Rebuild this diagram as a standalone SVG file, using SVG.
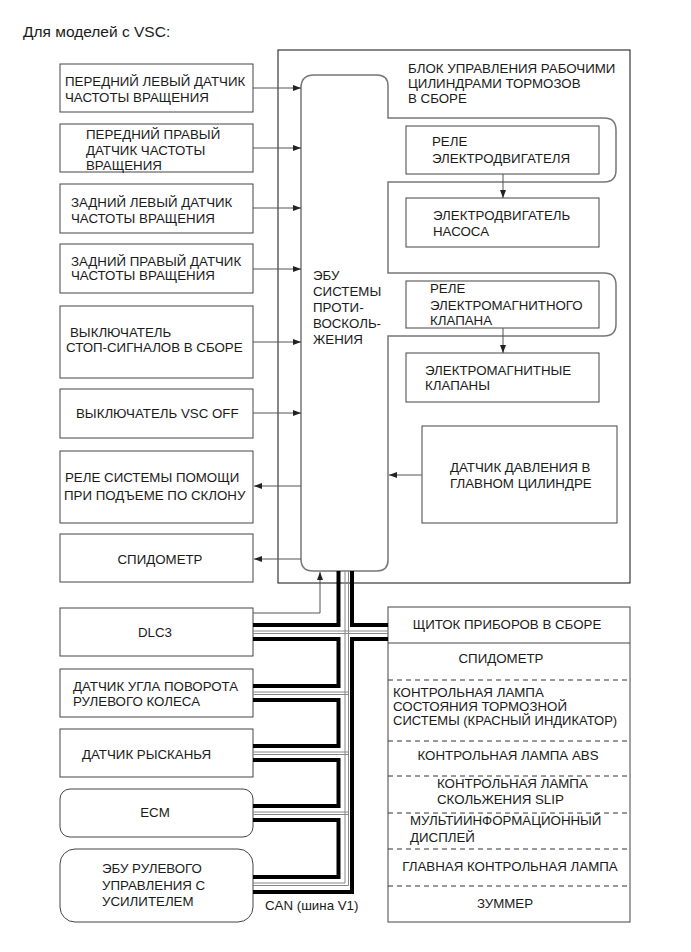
<svg xmlns="http://www.w3.org/2000/svg" width="691" height="952" viewBox="0 0 691 952">
<defs>
<marker id="ah" markerUnits="userSpaceOnUse" markerWidth="8" markerHeight="6" refX="8" refY="3" orient="auto">
<path d="M0,0 L8,3 L0,6 z" fill="#222"/>
</marker>
<style>
.t{font-family:"Liberation Sans",Arial,sans-serif;font-size:13.3px;fill:#1a1a1a}
.m{text-anchor:middle}
.box{fill:#fff;stroke:#444;stroke-width:1}
.ln{fill:none;stroke:#555;stroke-width:1}
.ar{fill:none;stroke:#555;stroke-width:1;marker-end:url(#ah)}
.ecu{fill:#fff;stroke:#777;stroke-width:1.5}
.thick{fill:none;stroke:#000;stroke-width:4;stroke-linejoin:miter}
.thin{fill:none;stroke:#888;stroke-width:1}
.dash{stroke:#333;stroke-width:1;stroke-dasharray:5,4}
</style>
</defs>
<rect width="691" height="952" fill="#fff"/>
<text class="t" x="23" y="37" style="font-size:15.5px">Для моделей с VSC:</text>

<g id="brake-actuator">
<rect x="278" y="50" width="352" height="533" fill="#fff" stroke="#111" stroke-width="1"/>
<text class="t" x="408" y="73">БЛОК УПРАВЛЕНИЯ РАБОЧИМИ</text>
<text class="t" x="408" y="88">ЦИЛИНДРАМИ ТОРМОЗОВ</text>
<text class="t" x="408" y="103">В СБОРЕ</text>
</g>

<g id="ecu">
<path class="ecu" d="M301,88 Q301,75 314,75 H377 Q388,75 388,86 V118 H604 Q616,118 616,130 V170 Q616,182 604,182 H388 V273 H604 Q616,273 616,285 V324 Q616,336 604,336 H388 V560 Q388,571 377,571 H313 Q301,571 301,559 Z"/>
<text class="t" x="313" y="280">ЭБУ</text>
<text class="t" x="313" y="296">СИСТЕМЫ</text>
<text class="t" x="313" y="312">ПРОТИ-</text>
<text class="t" x="313" y="328">ВОСКОЛЬ-</text>
<text class="t" x="313" y="344">ЖЕНИЯ</text>
</g>

<g id="motor-relay">
<rect class="box" x="406" y="126" width="193" height="48"/>
<text class="t" x="432" y="146">РЕЛЕ</text>
<text class="t" x="432" y="163">ЭЛЕКТРОДВИГАТЕЛЯ</text>
</g>
<g id="pump-motor">
<rect class="box" x="406" y="198" width="193" height="49"/>
<text class="t" x="433" y="220">ЭЛЕКТРОДВИГАТЕЛЬ</text>
<text class="t" x="433" y="236">НАСОСА</text>
</g>
<g id="solenoid-relay">
<rect class="box" x="406" y="281" width="193" height="47"/>
<text class="t" x="430" y="293">РЕЛЕ</text>
<text class="t" x="430" y="310">ЭЛЕКТРОМАГНИТНОГО</text>
<text class="t" x="430" y="325">КЛАПАНА</text>
</g>
<g id="solenoid-valves">
<rect class="box" x="406" y="353" width="193" height="49"/>
<text class="t" x="425" y="375">ЭЛЕКТРОМАГНИТНЫЕ</text>
<text class="t" x="425" y="390">КЛАПАНЫ</text>
</g>
<g id="pressure-sensor">
<rect class="box" x="422" y="426" width="195" height="97"/>
<text class="t" x="450" y="472">ДАТЧИК ДАВЛЕНИЯ В</text>
<text class="t" x="450" y="488">ГЛАВНОМ ЦИЛИНДРЕ</text>
</g>

<g id="fl-sensor">
<rect class="box" x="60" y="64" width="193" height="48"/>
<text class="t" x="65" y="86">ПЕРЕДНИЙ ЛЕВЫЙ ДАТЧИК</text>
<text class="t" x="65" y="102">ЧАСТОТЫ ВРАЩЕНИЯ</text>
</g>
<g id="fr-sensor">
<rect class="box" x="60" y="124" width="193" height="48"/>
<text class="t" x="86" y="139">ПЕРЕДНИЙ ПРАВЫЙ</text>
<text class="t" x="86" y="155">ДАТЧИК ЧАСТОТЫ</text>
<text class="t" x="86" y="170">ВРАЩЕНИЯ</text>
</g>
<g id="rl-sensor">
<rect class="box" x="60" y="184" width="193" height="49"/>
<text class="t" x="71" y="207">ЗАДНИЙ ЛЕВЫЙ ДАТЧИК</text>
<text class="t" x="71" y="223">ЧАСТОТЫ ВРАЩЕНИЯ</text>
</g>
<g id="rr-sensor">
<rect class="box" x="60" y="244" width="193" height="49"/>
<text class="t" x="71" y="266">ЗАДНИЙ ПРАВЫЙ ДАТЧИК</text>
<text class="t" x="71" y="280">ЧАСТОТЫ ВРАЩЕНИЯ</text>
</g>
<g id="stop-switch">
<rect class="box" x="60" y="306" width="193" height="72"/>
<text class="t" x="70" y="337">ВЫКЛЮЧАТЕЛЬ</text>
<text class="t" x="66" y="352">СТОП-СИГНАЛОВ В СБОРЕ</text>
</g>
<g id="vsc-off">
<rect class="box" x="60" y="389" width="193" height="49"/>
<text class="t" x="76" y="418">ВЫКЛЮЧАТЕЛЬ VSC OFF</text>
</g>
<g id="hill-relay">
<rect class="box" x="60" y="451" width="193" height="72"/>
<text class="t" x="65" y="482">РЕЛЕ СИСТЕМЫ ПОМОЩИ</text>
<text class="t" x="64" y="500">ПРИ ПОДЪЕМЕ ПО СКЛОНУ</text>
</g>
<g id="speedometer">
<rect class="box" x="60" y="534" width="193" height="48"/>
<text class="t m" x="160" y="564">СПИДОМЕТР</text>
</g>
<g id="dlc3">
<rect class="box" x="60" y="608" width="193" height="48"/>
<text class="t m" x="155" y="637">DLC3</text>
</g>
<g id="steering-sensor">
<rect class="box" x="60" y="669" width="193" height="48"/>
<text class="t" x="73" y="691">ДАТЧИК УГЛА ПОВОРОТА</text>
<text class="t" x="73" y="706">РУЛЕВОГО КОЛЕСА</text>
</g>
<g id="yaw-sensor">
<rect class="box" x="60" y="729" width="193" height="48"/>
<text class="t" x="82" y="759">ДАТЧИК РЫСКАНЬЯ</text>
</g>
<g id="ecm">
<rect class="box" x="60" y="789" width="193" height="48" rx="10"/>
<text class="t m" x="155" y="817">ECM</text>
</g>
<g id="eps-ecu">
<rect class="box" x="60" y="849" width="193" height="73" rx="15"/>
<text class="t" x="102" y="873">ЭБУ РУЛЕВОГО</text>
<text class="t" x="102" y="890">УПРАВЛЕНИЯ С</text>
<text class="t" x="102" y="906">УСИЛИТЕЛЕМ</text>
</g>

<g id="combination-meter">
<rect class="box" x="388" y="607" width="242" height="315"/>
<line x1="388" y1="643" x2="630" y2="643" stroke="#444"/>
<line class="dash" x1="388" y1="680" x2="630" y2="680"/>
<line class="dash" x1="388" y1="741" x2="630" y2="741"/>
<line class="dash" x1="388" y1="776" x2="630" y2="776"/>
<line class="dash" x1="388" y1="813" x2="630" y2="813"/>
<line class="dash" x1="388" y1="849" x2="630" y2="849"/>
<line class="dash" x1="388" y1="886" x2="630" y2="886"/>
<text class="t m" x="507" y="629">ЩИТОК ПРИБОРОВ В СБОРЕ</text>
<text class="t m" x="501" y="663">СПИДОМЕТР</text>
<text class="t" x="393" y="697">КОНТРОЛЬНАЯ ЛАМПА</text>
<text class="t" x="393" y="711">СОСТОЯНИЯ ТОРМОЗНОЙ</text>
<text class="t" x="393" y="725" style="font-size:13px">СИСТЕМЫ (КРАСНЫЙ ИНДИКАТОР)</text>
<text class="t m" x="508" y="760">КОНТРОЛЬНАЯ ЛАМПА ABS</text>
<text class="t" x="437" y="788">КОНТРОЛЬНАЯ ЛАМПА</text>
<text class="t" x="437" y="804">СКОЛЬЖЕНИЯ SLIP</text>
<text class="t" x="410" y="825">МУЛЬТИИНФОРМАЦИОННЫЙ</text>
<text class="t" x="410" y="842">ДИСПЛЕЙ</text>
<text class="t m" x="510" y="871">ГЛАВНАЯ КОНТРОЛЬНАЯ ЛАМПА</text>
<text class="t m" x="505" y="908">ЗУММЕР</text>
</g>

<g id="connectors">
<line class="ar" x1="253" y1="88" x2="301" y2="88"/>
<line class="ar" x1="253" y1="148" x2="301" y2="148"/>
<line class="ar" x1="253" y1="208" x2="301" y2="208"/>
<line class="ar" x1="253" y1="269" x2="301" y2="269"/>
<line class="ar" x1="253" y1="342" x2="301" y2="342"/>
<line class="ar" x1="253" y1="413" x2="301" y2="413"/>
<line class="ar" x1="301" y1="486" x2="254" y2="486"/>
<line class="ar" x1="301" y1="559" x2="254" y2="559"/>
<line class="ar" x1="422" y1="475" x2="389" y2="475"/>
<line class="ar" x1="503" y1="174" x2="503" y2="198"/>
<line class="ar" x1="503" y1="328" x2="503" y2="353"/>
<polyline class="ar" points="253,613 320,613 320,572"/>
<g id="can-bus">
<path class="thin" d="M345,571 V883 H253 M348.5,571 V885.5 H253 M253,631 H388 M253,633.5 H388 M253,692 H348.5 M253,694.5 H348.5 M253,752 H348.5 M253,754.5 H348.5 M253,812 H348.5 M253,814.5 H348.5"/>
<path class="thick" d="M253,625 H338.5 V571 M253,639 H338.5 V686 H253 M253,700 H338.5 V746 H253 M253,760 H338.5 V806 H253 M253,820 H338.5 V877 H253 M253,892 H352 V639 H388 M352,571 V625 H388"/>
</g>
<text class="t" x="265" y="910">CAN (шина V1)</text>
</g>
</svg>
